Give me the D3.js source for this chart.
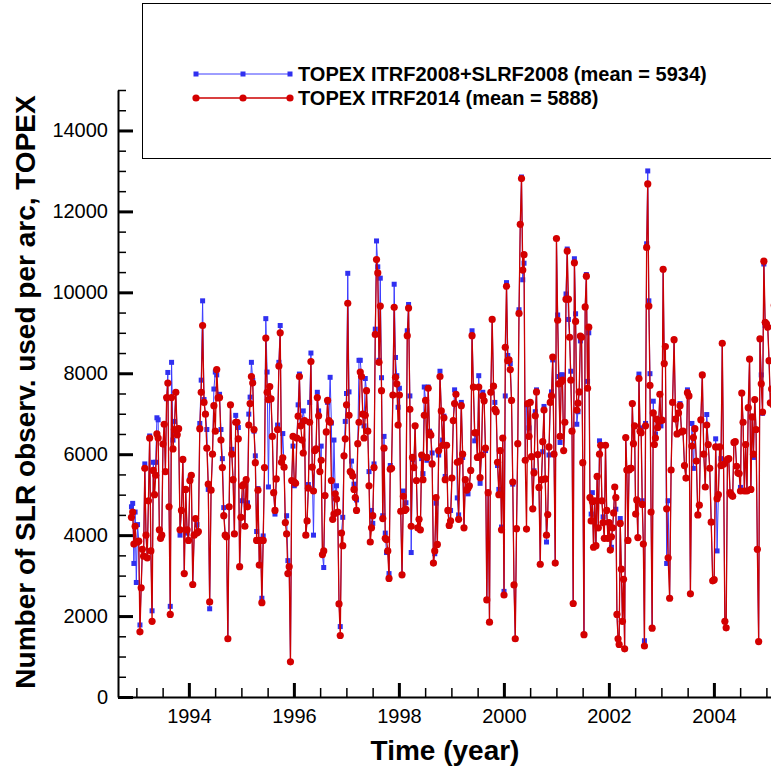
<!DOCTYPE html>
<html>
<head>
<meta charset="utf-8">
<script src="https://cdn.jsdelivr.net/npm/d3@7"></script>
<style>
  body { margin: 0; background: #fff; }
  svg { display: block; font-family: "Liberation Sans", Arial, Helvetica, sans-serif; }
</style>
</head>
<body>
<script>
// arc values, one array per stretch of time (segBounds gives the years)
const segBounds = [1992.895, 1993.657, 1994.705, 1995.752, 1996.800, 1997.848, 1998.895,
                   1999.943, 2000.990, 2002.038, 2003.086, 2004.048, 2005.162];

const red1 = [4440, 4570, 3780, 4220, 3830, 3830, 3850, 1610, 2700, 3650, 3480, 5650, 4000, 3440, 4850, 6400, 3610, 1870, 5600, 5000, 5480, 6500, 6400, 4130, 3920, 4000, 6250, 6740, 5570, 7400, 7760, 4700, 2040];
const blue1 = [4700, 4785, 3300, 4570, 2830, 4260, 3850, 1780, 2700, 3650, 3480, 5760, 4000, 3440, 4850, 6450, 3610, 2130, 5800, 5000, 5800, 6900, 6850, 4130, 3920, 4000, 6250, 6740, 5570, 7370, 8020, 4700, 2240];
const red2 = [7400, 6130, 6610, 7530, 6480, 6630, 4130, 4610, 5870, 3050, 5130, 4130, 3870, 5350, 5480, 2780, 4000, 4410, 4050, 4090, 6630, 7530, 9180, 7280, 6990, 6150, 5260, 2350, 5110, 6000, 7200, 6570, 8090, 7390, 7400, 6350, 5670, 4480, 4000];
const blue2 = [8270, 6350, 6810, 7530, 6480, 6630, 4000, 4610, 5870, 3050, 5130, 4050, 3870, 5390, 5480, 2780, 4000, 4410, 4260, 4090, 6760, 7830, 9790, 7350, 6990, 6610, 5130, 2180, 5110, 6000, 7610, 8030, 7960, 7390, 7480, 6610, 5890, 4680, 4000];
const red3 = [3960, 1440, 4700, 7220, 6000, 5370, 4030, 6790, 6790, 6380, 3220, 4440, 5220, 5250, 4220, 5370, 4700, 6720, 7250, 7920, 7760, 6610, 5790, 3870, 5110, 3260, 3870, 2330, 3870, 5670, 8870, 7530, 7350, 7670, 7370, 6440, 5050, 4610, 5390, 6610, 8180, 9000];
const blue3 = [3960, 1440, 4700, 7220, 6120, 5370, 4030, 6960, 6790, 6660, 3220, 4440, 4850, 5250, 4220, 5370, 4800, 6990, 7410, 8270, 7830, 6570, 5960, 4090, 5150, 3260, 3870, 2440, 3980, 5670, 9350, 8030, 5190, 7670, 7370, 6440, 5050, 4520, 5390, 6720, 8270, 9180];
const red4 = [5800, 5910, 5680, 4310, 4030, 3050, 3220, 870, 5350, 6440, 5310, 5280, 6400, 6940, 7920, 6700, 6350, 6030, 6830, 4000, 4350, 5160, 6790, 8290, 5680, 5090, 6090, 6130, 7400, 6950, 5570, 5850, 3520, 3610, 4980, 6550, 7330, 6830, 6790, 5350, 4390, 4520, 5020];
const blue4 = [5800, 6510, 5680, 4310, 4480, 3370, 3220, 870, 5350, 6200, 5220, 5280, 6400, 7220, 7980, 6700, 6830, 7070, 6830, 4000, 4350, 5250, 7280, 8500, 5680, 4000, 6090, 6130, 7530, 7070, 5570, 6200, 3520, 3200, 4980, 6550, 7280, 6830, 7900, 6770, 4390, 6350, 5020];
const red5 = [4890, 4570, 2300, 1520, 4050, 3740, 5960, 6380, 7220, 9730, 6960, 5570, 5540, 5460, 5130, 4930, 4610, 6260, 6790, 8030, 7920, 6990, 6400, 6960, 7570, 6570, 5220, 3830, 4180, 4480, 5670, 8960, 10810, 10480, 8270, 9660, 7570, 4410, 6150, 3920, 3890, 3610, 2930, 5630];
const blue5 = [5220, 4570, 2300, 1740, 4050, 4440, 5960, 6810, 7500, 10470, 7540, 5570, 5830, 5460, 5260, 4930, 4870, 6260, 8320, 8320, 7920, 6990, 6700, 7870, 7570, 6570, 5570, 3830, 4610, 4290, 5760, 9090, 11270, 10630, 8320, 10350, 7890, 4480, 6440, 4050, 3570, 3610, 3050, 5720];
const red6 = [5650, 7460, 9630, 7900, 7740, 6720, 7460, 4590, 3020, 4960, 4610, 4640, 8930, 9610, 7110, 4220, 5920, 5670, 6700, 5350, 4180, 4390, 4130, 5980, 5370, 6960, 7330, 5920, 7630, 6530, 6470, 5760, 3310, 3610, 4930, 3770, 6090, 7920, 7070, 6220, 6900, 5370];
const blue6 = [5650, 7460, 10200, 8390, 7940, 7160, 7630, 4590, 3020, 5090, 4610, 4800, 9050, 9700, 7440, 3570, 5870, 5670, 6700, 5350, 4180, 4390, 4130, 5890, 5520, 7660, 7330, 5850, 7660, 6570, 6470, 6030, 3310, 3540, 4790, 3770, 5980, 8050, 7070, 6350, 6940, 5450];
const red7 = [6220, 4610, 4240, 4350, 5410, 6830, 7250, 7480, 5800, 4390, 5830, 7200, 6000, 4180, 5370, 5110, 5160, 5220, 5600, 8930, 7660, 6530, 6530, 5920, 7660, 5420, 5980, 7440, 7320, 6150, 2400, 5050, 1850, 7530, 9330, 7680, 7110, 7050, 5800, 5000, 6090];
const blue7 = [6220, 4610, 4240, 4610, 5410, 6830, 7590, 7480, 4920, 4500, 5830, 7280, 5920, 4180, 5370, 5110, 5020, 5220, 5600, 9050, 7660, 6330, 6530, 5920, 7940, 5280, 5980, 7530, 7320, 6090, 2400, 5050, 1850, 7530, 9330, 7680, 7280, 7050, 5720, 5130, 6090];
const red8 = [4130, 6400, 2520, 8640, 10150, 8310, 8330, 8090, 7330, 5310, 2770, 1440, 4160, 6260, 9480, 11680, 12810, 10550, 10930, 5850, 4150, 7250, 6440, 7280, 5940, 4650, 5540, 6950, 7540, 5990, 5180, 3280, 5370, 6310, 7090, 5390, 4000, 4510, 6180, 7280, 7440, 8400, 6000, 3310];
const blue8 = [4200, 6400, 2610, 7440, 10240, 8440, 8330, 8240, 7330, 5260, 2770, 1440, 4160, 6260, 9570, 11680, 12850, 10310, 10720, 5850, 7220, 7250, 6650, 7280, 5940, 4650, 5590, 7050, 7590, 5990, 5180, 3280, 5370, 6060, 7180, 5390, 3830, 4510, 5980, 7280, 7540, 8330, 6000, 3310];
const red9 = [11330, 9310, 7740, 6440, 7790, 7830, 6090, 6790, 9830, 11020, 9830, 8890, 7830, 6570, 2310, 10730, 9280, 7090, 7260, 7540, 8920, 8890, 5790, 1540, 9640, 10400, 7630, 9140, 4930, 4350, 4830, 3700, 4850, 3740, 5450, 4180, 6000, 6220, 4850, 4310, 3920, 6220, 4610, 3920, 4310, 3630];
const blue9 = [11330, 9440, 7920, 6290, 7960, 7960, 6090, 6790, 9960, 11070, 9330, 8890, 8050, 6570, 2310, 10830, 9470, 6740, 7050, 7540, 8800, 8890, 5790, 1540, 9640, 10440, 7800, 9000, 4930, 4520, 5050, 3700, 4850, 3740, 5450, 4180, 6330, 6220, 4850, 4450, 3920, 6220, 4610, 3920, 4310, 3630];
const red10 = [3960, 4180, 4550, 5190, 4930, 2040, 1440, 1300, 4290, 3160, 1870, 2910, 1190, 6410, 5610, 3870, 5610, 5650, 5650, 7250, 6260, 6700, 4520, 4870, 3940, 7870, 6570, 6530, 4760, 3780, 1260, 6700, 11110, 12680, 9660, 7700, 4570, 1700, 7020, 6240, 6400, 6870, 6660, 6810, 7480, 6830, 6840, 10570, 8240, 8660];
const blue10 = [3700, 4180, 4550, 5190, 4640, 2040, 1440, 1300, 4410, 3160, 1870, 2910, 1190, 6410, 5610, 3870, 5610, 5650, 5650, 7250, 6260, 6700, 4520, 4870, 3940, 7980, 6570, 6650, 4850, 3780, 1390, 6760, 11200, 13000, 9790, 7990, 4570, 1700, 7310, 6240, 6500, 6870, 6660, 6810, 7480, 6700, 6840, 10570, 8240, 8660];
const red11 = [4650, 3440, 2440, 5610, 7280, 8830, 6870, 6500, 7020, 7200, 6550, 6570, 5720, 5410, 7520, 7440, 2550, 6200, 6410, 6630, 5830, 4500, 4740, 6850, 7960, 6000, 5190, 6720, 6240, 5650, 4320, 2870, 2900, 6180];
const blue11 = [3300, 4850, 2440, 5610, 7280, 8830, 6870, 6500, 7020, 7250, 6550, 6570, 5720, 5410, 7590, 7440, 2550, 6760, 5650, 6630, 5830, 4500, 4740, 6850, 7960, 6000, 5190, 6980, 6240, 5650, 4320, 2870, 2900, 6380];
const red12 = [4900, 5000, 6180, 5720, 8740, 5750, 1870, 1710, 5870, 5890, 5050, 5000, 4960, 6290, 6310, 5700, 5540, 5520, 5090, 7510, 6790, 5090, 6240, 5090, 7150, 8350, 5130, 6920, 6000, 7350, 6610, 3650, 1370, 8850, 7740, 7040, 10770, 9260, 9220, 9140, 8310, 7270, 7610, 7220, 9680];
const blue12 = [3610, 5000, 6180, 5890, 8740, 5750, 1870, 1710, 5870, 5890, 5050, 5000, 4960, 6290, 6310, 5700, 5540, 5520, 5180, 7510, 6790, 5090, 6240, 5090, 7150, 8350, 5130, 6920, 5920, 7350, 6610, 3650, 1370, 8850, 7960, 7010, 10700, 9180, 9220, 9140, 8310, 7270, 7610, 7220, 9680];

const redSegs = [red1, red2, red3, red4, red5, red6, red7, red8, red9, red10, red11, red12];
const blueSegs = [blue1, blue2, blue3, blue4, blue5, blue6, blue7, blue8, blue9, blue10, blue11, blue12];

const legendNames = ['TOPEX ITRF2008+SLRF2008 (mean = 5934)', 'TOPEX ITRF2014 (mean = 5888)'];
const yMajor = [0, 2000, 4000, 6000, 8000, 10000, 12000, 14000];
const xMajor = [1994, 1996, 1998, 2000, 2002, 2004];

const w = 771;
const h = 769;

// spread each stretch's arcs evenly over its years
const toPoints = (segs) => segs.flatMap((vals, i) => {
  const t0 = segBounds[i];
  const step = (segBounds[i + 1] - t0) / vals.length;
  return vals.map((v, j) => ({ t: t0 + (j + 0.5) * step, v: v }));
});
const bluePts = toPoints(blueSegs);
const redPts = toPoints(redSegs);

const xScale = d3.scaleLinear().domain([1992.65, 2006]).range([118, 818.9]);
const yScale = d3.scaleLinear().domain([0, 15000]).range([697, 90]);

const svg = d3.select('body')
  .append('svg')
  .attr('width', w)
  .attr('height', h);

svg.append('rect').attr('width', w).attr('height', h).attr('fill', '#fff');

svg.append('clipPath').attr('id', 'plotClip')
  .append('rect').attr('x', 118).attr('y', 85).attr('width', 700).attr('height', 615);

//minor ticks
const yMinor = d3.range(500, 15001, 500).filter((d) => d % 2000 !== 0);
svg.append('g')
  .attr('transform', 'translate(118,0)')
  .call(d3.axisLeft(yScale).tickValues(yMinor).tickSize(-8).tickFormat(''))
  .call((g) => g.select('.domain').remove())
  .call((g) => g.selectAll('.tick line').attr('stroke', '#000').attr('stroke-width', 1.5));

const xMinor = d3.range(1993, 2006, 0.5).filter((d) => xMajor.indexOf(d) < 0);
svg.append('g')
  .attr('transform', 'translate(0,697)')
  .call(d3.axisBottom(xScale).tickValues(xMinor).tickSize(-9).tickFormat(''))
  .call((g) => g.select('.domain').remove())
  .call((g) => g.selectAll('.tick line').attr('stroke', '#000').attr('stroke-width', 1.5));

//major axes
svg.append('g')
  .attr('transform', 'translate(118,0)')
  .call(d3.axisLeft(yScale).tickValues(yMajor).tickSize(-15).tickSizeOuter(0).tickPadding(10).tickFormat(d3.format('d')))
  .call((g) => g.select('.domain').attr('stroke', '#000').attr('stroke-width', 2))
  .call((g) => g.selectAll('.tick line').attr('stroke', '#000').attr('stroke-width', 3))
  .call((g) => g.selectAll('.tick text').attr('fill', '#000').style('font-size', '20px'));

svg.append('g')
  .attr('transform', 'translate(0,697)')
  .call(d3.axisBottom(xScale).tickValues(xMajor).tickSize(-14).tickSizeOuter(0).tickPadding(12).tickFormat(d3.format('d')))
  .call((g) => g.select('.domain').attr('stroke', '#000').attr('stroke-width', 2))
  .call((g) => g.selectAll('.tick line').attr('stroke', '#000').attr('stroke-width', 3))
  .call((g) => g.selectAll('.tick text').attr('fill', '#000').style('font-size', '20px'));

//the two series, red drawn over blue
const line = d3.line().x((d) => xScale(d.t)).y((d) => yScale(d.v));
const plot = svg.append('g').attr('clip-path', 'url(#plotClip)');

plot.append('path').datum(bluePts)
  .attr('d', line).attr('fill', 'none').attr('stroke', '#3c3cff').attr('stroke-width', 1);
plot.selectAll('rect.blue').data(bluePts).enter().append('rect')
  .attr('class', 'blue')
  .attr('x', (d) => xScale(d.t) - 2.5).attr('y', (d) => yScale(d.v) - 2.5)
  .attr('width', 5).attr('height', 5).attr('fill', '#3030f0');

plot.append('path').datum(redPts)
  .attr('d', line).attr('fill', 'none').attr('stroke', '#cc0000').attr('stroke-width', 1.3);
plot.selectAll('circle.red').data(redPts).enter().append('circle')
  .attr('class', 'red')
  .attr('cx', (d) => xScale(d.t)).attr('cy', (d) => yScale(d.v))
  .attr('r', 3.6).attr('fill', '#d40000');

//axis titles
svg.append('text')
  .attr('transform', 'translate(35,392) rotate(-90)')
  .attr('text-anchor', 'middle')
  .style('font-size', '28px').style('font-weight', 'bold')
  .text('Number of SLR observ. used per arc, TOPEX');

svg.append('text')
  .attr('x', 445).attr('y', 760)
  .attr('text-anchor', 'middle')
  .style('font-size', '28px').style('font-weight', 'bold')
  .text('Time (year)');

//legend
const legend = svg.append('g');
legend.append('rect')
  .attr('x', 142.5).attr('y', 3.5).attr('width', 700).attr('height', 155)
  .attr('fill', '#fff').attr('stroke', '#000').attr('stroke-width', 1);

const legY = [74, 98];
legend.append('line').attr('x1', 196).attr('x2', 290).attr('y1', legY[0]).attr('y2', legY[0])
  .attr('stroke', '#3c3cff').attr('stroke-width', 1);
[196, 243, 290].forEach((lx) => {
  legend.append('rect').attr('x', lx - 2.5).attr('y', legY[0] - 2.5).attr('width', 5).attr('height', 5).attr('fill', '#3030f0');
});
legend.append('line').attr('x1', 196).attr('x2', 290).attr('y1', legY[1]).attr('y2', legY[1])
  .attr('stroke', '#cc0000').attr('stroke-width', 1.3);
[196, 243, 290].forEach((lx) => {
  legend.append('circle').attr('cx', lx).attr('cy', legY[1]).attr('r', 3.6).attr('fill', '#d40000');
});
legendNames.forEach((name, i) => {
  legend.append('text')
    .attr('x', 298).attr('y', legY[i] + 7)
    .style('font-size', '20px').style('font-weight', 'bold')
    .text(name);
});
</script>
</body>
</html>
